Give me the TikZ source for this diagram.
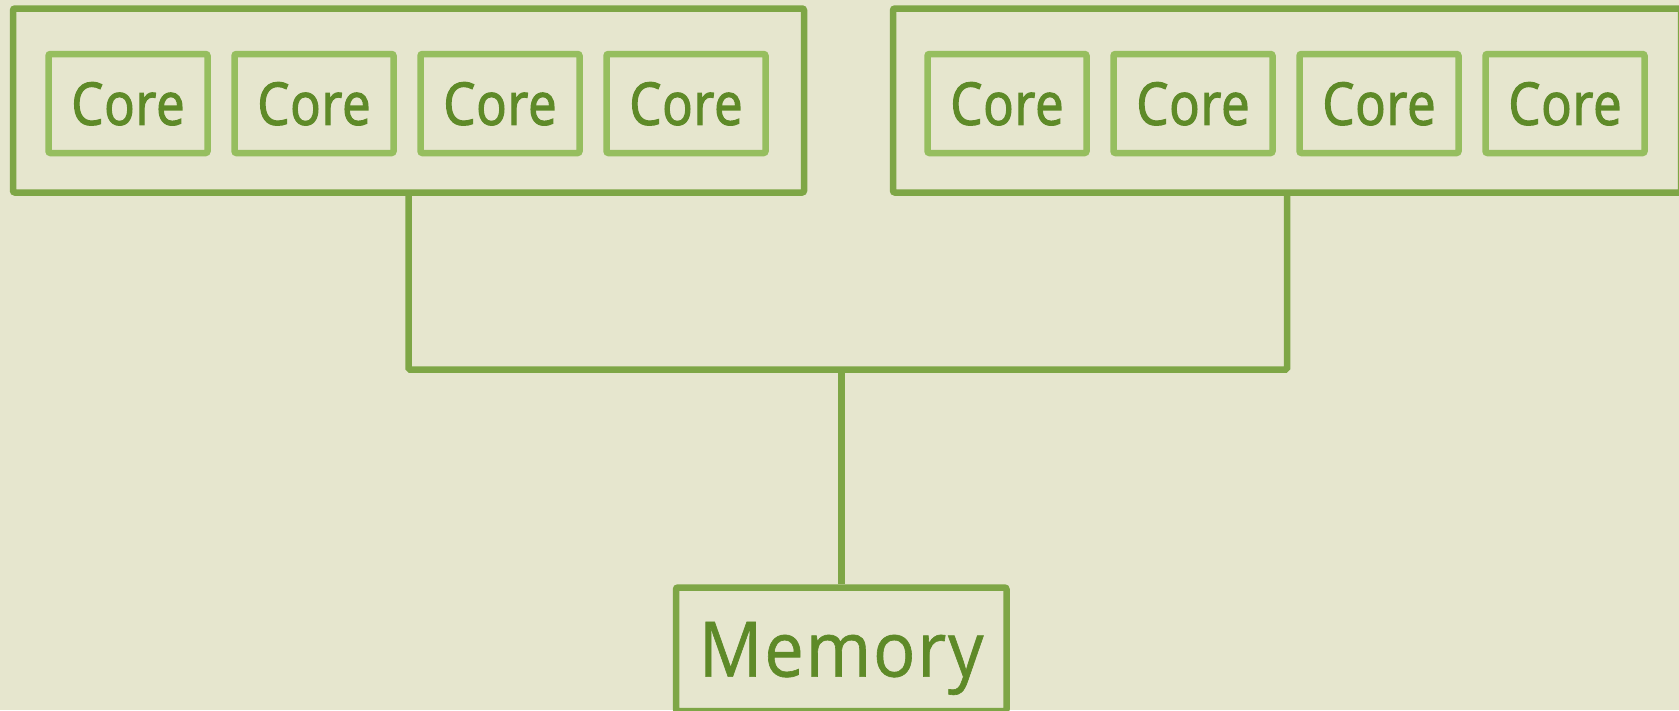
\documentclass[tikz,border=0pt]{standalone}
\usepackage{fontspec}
\setmainfont{Open Sans}
\newfontfamily\corefont[FakeStretch=0.86,FakeBold=2,LetterSpace=1.5]{Open Sans}
\newfontfamily\memfont[FakeStretch=0.92,FakeBold=0.8,LetterSpace=2.5]{Open Sans}
\definecolor{bg}{RGB}{230,230,206}
\definecolor{outerc}{RGB}{126,166,70}
\definecolor{corec}{RGB}{150,190,95}
\definecolor{txtc}{RGB}{94,138,40}
\tikzset{
  outerbox/.style={draw=outerc, line width=6.5pt, rounded corners=2pt, inner sep=0pt},
  corebox/.style={draw=corec, line width=6.5pt, rounded corners=2pt, minimum width=159pt, minimum height=99pt, inner sep=0pt, text=txtc, text depth=0pt, font=\corefont\fontsize{58.8}{66}\selectfont},
  membox/.style={draw=outerc, line width=6.5pt, rounded corners=2pt, minimum width=330.5pt, minimum height=123.5pt, inner sep=0pt, text=txtc, text depth=0pt, font=\memfont\fontsize{76.5}{86}\selectfont},
  wire/.style={draw=outerc, line width=6.5pt, rounded corners=1.5pt}
}
\begin{document}
\begin{tikzpicture}[x=1pt,y=-1pt]
\fill[bg] (0,0) rectangle (1679,710);
\useasboundingbox (0,0) rectangle (1679,710);
\clip (0,0) rectangle (1679,710);
\node[outerbox, minimum width=791pt, minimum height=184pt] (L) at (408.5,100.5) {};
\node[outerbox, minimum width=788pt, minimum height=184pt] (R) at (1287,100.5) {};
\node[corebox] (c1) at (128,103.5) {Core};
\node[corebox] (c2) at (314,103.5) {Core};
\node[corebox] (c3) at (500,103.5) {Core};
\node[corebox] (c4) at (686,103.5) {Core};
\node[corebox] (c5) at (1007,103.5) {Core};
\node[corebox] (c6) at (1193,103.5) {Core};
\node[corebox] (c7) at (1379,103.5) {Core};
\node[corebox] (c8) at (1565,103.5) {Core};
\node[membox] (mem) at (841.25,649.25) {Memory};
\coordinate (bus) at (841.25,369.5);
\draw[wire] (L.south) |- (bus) -| (R.south);
\draw[wire] (bus) -- (mem.north);
\end{tikzpicture}
\end{document}
